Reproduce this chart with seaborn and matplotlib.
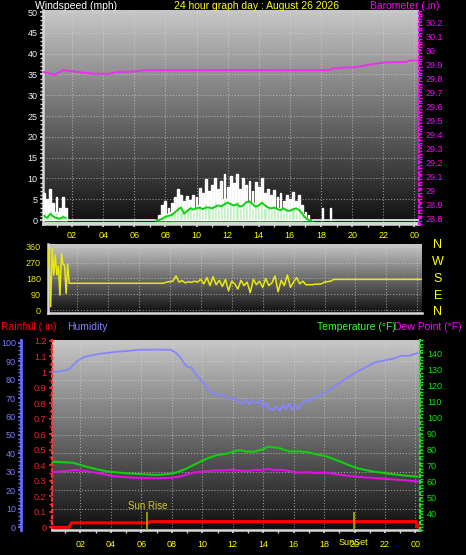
import numpy as np
import matplotlib
matplotlib.use("Agg")
import matplotlib.pyplot as plt
from matplotlib.ticker import MultipleLocator, FormatStrFormatter
import seaborn as sns

# ---- wind speed (mph), sampled every 0.2 h while there was wind ----
wind_am_hours = [0.2, 0.4, 0.6, 0.8, 1.0, 1.2, 1.4, 1.6]
gust_am = [6.5, 5.0, 7.5, 4.0, 5.5, 3.0, 5.5, 3.0]
speed_am = [2.0, 1.5, 2.5, 1.0, 2.0, 1.0, 1.5, 0.5]
avg_am = [1.0, 0.5, 1.5, 0.8, 0.5, 0.3, 0.7, 0.5]

wind_pm_hours = np.arange(7.4, 17.41, 0.2)
gust_pm = [0, 1.2, 3.5, 4.5, 3, 4.2, 5.5, 7.5, 6, 4.5, 5.8, 4.8, 6, 5.5, 7.8, 6.5,
           9.8, 7, 8.5, 10, 7.5, 9.5, 11, 8, 10.5, 9, 11, 7.5, 10, 8.5, 9.5, 7,
           9.2, 8, 10, 6.5, 7.5, 6, 7.2, 5.5, 6.5, 4.5, 6, 5, 6.8, 4.5, 6, 3.5,
           2, 1.2, 0]
speed_pm = [0, 0, 1, 1.5, 1, 2, 2.5, 3.5, 2, 3, 2.5, 3.5, 2, 3, 3.5, 2.5,
            4, 3, 3.5, 4.5, 3, 4, 5, 3.5, 4.5, 3.5, 4.5, 3, 4, 3.5, 4, 3,
            4, 3.5, 4.5, 3, 3.5, 2.5, 3, 2.5, 3, 2, 3, 2, 3, 2, 2.5, 1.5,
            0.5, 0, 0]
avg_pm = [0, 0, 0.3, 0.8, 1, 1.2, 1.8, 2.5, 3, 1.5, 2.2, 2.8, 2.5, 2.8, 3, 2.6,
          3, 3, 2.8, 3.2, 3.5, 3.3, 3.8, 4.2, 3.8, 3.5, 3.8, 3.2, 3.5, 4.3, 4.5, 3.8,
          3.2, 3.5, 4.2, 3.5, 3, 2.8, 3, 2.6, 2.4, 2.8, 2.3, 2.2, 2.6, 2.8, 2.4, 1.5,
          0.5, 0, 0]
late_gust_hours = [18.1, 18.6]
late_gust = [3.0, 3.0]

# ---- barometer (in) ----
baro_hours = [0.1, 0.9, 1.4, 3.2, 4.4, 4.8, 6.05, 6.7, 12.8, 18.6, 18.7, 20.3, 21.2, 22.1, 23.5, 23.7, 24.3]
baro = [29.845, 29.824, 29.857, 29.833, 29.83, 29.843, 29.848, 29.857, 29.858, 29.857,
        29.869, 29.88, 29.898, 29.912, 29.916, 29.926, 29.926]

# ---- wind direction (deg) ----
dir_hours = [0.1, 0.2, 0.3, 0.4, 0.5, 0.6, 0.7, 0.8, 0.9, 1.0, 1.1, 1.2, 1.3, 1.4, 1.5, 1.6,
             1.7, 7.4, 7.6, 7.8, 8.0, 8.2, 8.4, 8.6, 8.8, 9.0, 9.2, 9.4, 9.6, 9.8, 10.0,
             10.2, 10.4, 10.6, 10.8, 11.0, 11.2, 11.4, 11.6, 11.8, 12.0, 12.2, 12.4, 12.6,
             12.8, 13.0, 13.2, 13.4, 13.6, 13.8, 14.0, 14.2, 14.4, 14.6, 14.8, 15.0, 15.2,
             15.4, 15.6, 15.8, 16.0, 16.2, 16.4, 16.6, 16.8, 17.0, 17.2, 17.4, 17.6, 17.8,
             18.0, 18.2, 18.4, 18.6, 24.3]
direction = [238, 351, 20, 351, 200, 313, 200, 250, 87, 322, 260, 256, 96, 260, 153, 153,
             153, 153, 153, 160, 162, 165, 195, 160, 168, 155, 162, 158, 165, 160, 175,
             150, 185, 140, 190, 145, 170, 135, 175, 110, 165, 150, 120, 170,
             140, 160, 100, 175, 145, 165, 130, 180, 140, 155, 195, 105, 170,
             140, 200, 130, 160, 185, 150, 165, 145, 145, 145, 148, 148, 150,
             160, 162, 165, 175, 175]
compass = ["N", "W", "S", "E", "N"]

# ---- humidity (%) ----
hum_hours = [0.15, 0.6, 1.0, 1.3, 1.7, 2.15, 2.6, 3.25, 3.8, 4.35, 5.0, 5.9, 7.0, 7.9, 8.2,
             8.5, 8.97, 9.3, 9.6, 10.0, 10.5, 11.0, 11.3, 11.6, 11.9, 12.1, 12.3, 12.6,
             12.9, 13.1, 13.3, 13.6, 13.8, 14.0, 14.2, 14.4, 14.7, 14.9, 15.1, 15.3, 15.5,
             15.7, 15.9, 16.1, 16.3, 16.5, 16.7, 17.0, 17.3, 17.7, 18.2, 18.7, 19.3, 19.8,
             20.2, 20.8, 21.3, 22.2, 22.6, 23.05, 23.6, 24.15]
humidity = [84, 84.5, 85, 86, 89.5, 92, 93, 94, 94.5, 95.1, 95.5, 96.2, 96.3, 96.2, 95,
            92.6, 87.1, 86.5, 82.6, 79, 73.6, 71.5, 72, 70, 69, 70.5, 68.2, 67,
            69, 66.5, 68.5, 67, 69, 65, 67.5, 64, 63.6, 65.5, 63, 66.5, 64,
            67, 63.5, 66.5, 64, 67, 68, 68.5, 70, 71.5, 73.6, 76.5, 79.9, 82.5,
            84.4, 87, 89.3, 90.8, 91.5, 92.9, 93, 94.4]

# ---- temperature and dew point (F) ----
temp_hours = [0.17, 1.5, 2.4, 3.2, 3.9, 5.0, 6.0, 7.0, 7.5, 8.1, 8.5, 9.0, 9.85, 10.4, 11.0,
              11.6, 12.05, 12.5, 12.9, 13.4, 13.9, 14.3, 14.7, 15.1, 15.5, 15.8, 16.3, 16.9,
              17.5, 18.2, 19.1, 19.6, 20.2, 20.8, 21.3, 22.4, 23.2, 24.15]
temperature = [72.5, 71.9, 69.4, 67.5, 66.3, 65.3, 64.8, 64.3, 64.6, 65.3, 66.5, 68.4, 72.5, 74.8, 76.7,
               77.5, 78.8, 79.8, 78.8, 78.8, 80, 81.9, 81.5, 80.9, 79.5, 78.8, 79, 78.4,
               77.2, 75.7, 72.5, 70.5, 68.4, 67.2, 66.3, 64.9, 64, 63.2]
dew_hours = [0.17, 0.8, 1.7, 2.5, 3.25, 4.1, 5.4, 6.2, 7.2, 8.0, 8.5, 9.4, 10.0, 10.7, 11.5,
             12.0, 12.5, 13.0, 13.5, 14.0, 14.3, 14.8, 15.3, 15.8, 16.2, 17.0, 17.5, 18.2,
             19.1, 19.8, 20.6, 21.5, 22.4, 23.3, 24.15]
dew_point = [66, 66.5, 67.4, 66.5, 65.3, 63.6, 62.6, 62.4, 62.2, 62.6, 63.2, 65.7, 66.3, 67, 67.2,
             67.5, 67, 66.8, 67.5, 67.2, 68, 67.3, 67.5, 66.5, 65.7, 66, 65.5, 65.7,
             64.3, 63.5, 62.8, 62.2, 61.6, 61, 60.1]

# ---- rainfall (in) ----
rain_hours = [0.1, 1.25, 1.4, 6.5, 6.55, 24.05, 24.15]
rain = [0.0, 0.0, 0.029, 0.029, 0.037, 0.037, 0.0]

sunrise, sunset = 6.4, 19.95
hour_ticks = list(range(2, 25, 2))
hour_labels = ["02", "04", "06", "08", "10", "12", "14", "16", "18", "20", "22", "00"]

sns.set_theme(style="dark")
plt.rcParams["font.family"] = ["Liberation Sans", "DejaVu Sans"]

W, H = 466, 555
fig = plt.figure(figsize=(W / 100, H / 100), dpi=100, facecolor="black")

def box(l, t, r, b):
    return [l / W, 1 - b / H, (r - l) / W, (b - t) / H]

def gradient(ax, top=0.78, bottom=0.06):
    g = np.linspace(bottom, top, 256).reshape(-1, 1)
    ax.imshow(g, extent=[0, 1, 0, 1], transform=ax.transAxes, origin="lower",
              aspect="auto", cmap="gray", vmin=0, vmax=1, zorder=0)

def style_x(ax, labels=True):
    ax.set_xlim(0.13, 24.3)
    ax.set_xticks(hour_ticks)
    ax.set_xticklabels(hour_labels if labels else [])
    ax.xaxis.set_minor_locator(MultipleLocator(1))
    ax.tick_params(axis="x", which="both", colors="#d0d0d0", labelcolor="#ffff00",
                   labelsize=6.5, length=2, pad=3, bottom=labels)
    ax.grid(True, color="#d8d8d8", linestyle=":", linewidth=0.8, alpha=0.6)
    ax.set_facecolor("black")

grid_kw = dict(color="#d8d8d8", linestyle=":", linewidth=0.8, alpha=0.6)

# ================= top: wind speed + barometer =================
ax1 = fig.add_axes(box(43, 10, 419, 224))
gradient(ax1)
style_x(ax1)
ax1.set_ylim(-0.96, 50.5)
ax1.yaxis.set_major_locator(MultipleLocator(5))
ax1.yaxis.set_minor_locator(MultipleLocator(1))
ax1.tick_params(axis="y", which="both", colors="#d0d0d0", labelcolor="#eef0ff",
                labelsize=6.5, length=2, pad=2)
ax1.axhline(-0.8, color="#a8f0a8", lw=1.6, zorder=2)
ax1.axhline(0, color="#d8d8d8", lw=1.4, zorder=2)
ax1.bar(wind_am_hours, gust_am, width=0.12, color="#f0f0f0", zorder=3)
ax1.bar(wind_pm_hours, gust_pm, width=0.12, color="#f0f0f0", zorder=3)
ax1.bar(late_gust_hours, late_gust, width=0.1, color="#e0e0e0", zorder=3)
ax1.bar(wind_am_hours, speed_am, width=0.2, color="#b8f0b8", zorder=4)
ax1.bar(wind_pm_hours, speed_pm, width=0.2, color="#b8f0b8", zorder=4)
sns.lineplot(x=wind_am_hours, y=avg_am, ax=ax1, color="#10d010", lw=1.4, zorder=5)
sns.lineplot(x=wind_pm_hours, y=avg_pm, ax=ax1, color="#10d010", lw=1.4, zorder=5)
for s in ["left", "bottom"]:
    ax1.spines[s].set_color("#d8d8d8")
    ax1.spines[s].set_linewidth(1.8)
ax1.spines["top"].set_visible(False)
ax1.spines["right"].set_visible(False)

ax1b = ax1.twinx()
ax1b.set_ylim(28.76, 30.286)
sns.lineplot(x=baro_hours, y=baro, ax=ax1b, color="#ee30ee", lw=1.4)
ax1b.yaxis.set_major_locator(MultipleLocator(0.1))
ax1b.yaxis.set_minor_locator(MultipleLocator(0.02))
ax1b.yaxis.set_major_formatter(FormatStrFormatter("%g"))
ax1b.tick_params(axis="y", which="both", colors="#ff00ff", labelcolor="#ff00ff",
                 labelsize=6.5, length=2, pad=3)
ax1b.spines["right"].set_color("#ff00ff")
ax1b.spines["right"].set_linestyle(":")
ax1b.spines["right"].set_linewidth(1.5)
for s in ["left", "top", "bottom"]:
    ax1b.spines[s].set_visible(False)
ax1b.set_ylabel("")
ax1.set_ylabel("")

# ================= middle: wind direction =================
ax2 = fig.add_axes(box(48, 244, 422, 313))
gradient(ax2)
style_x(ax2, labels=False)
ax2.set_ylim(-15, 375)
ax2.yaxis.set_major_locator(MultipleLocator(90))
ax2.yaxis.set_minor_locator(MultipleLocator(30))
ax2.tick_params(axis="y", which="both", colors="#e0e000", labelcolor="#e8e800",
                labelsize=6.5, length=2, pad=3)
sns.lineplot(x=dir_hours, y=direction, ax=ax2, color="#e8e810", lw=1.1, zorder=3)
for s in ["left", "bottom"]:
    ax2.spines[s].set_color("#d8d8d8")
    ax2.spines[s].set_linewidth(1.8)
ax2.spines["top"].set_visible(False)
ax2.spines["right"].set_visible(False)
for lab, yy in zip(compass, [245, 262, 279, 296, 312]):
    fig.text(438 / W, 1 - yy / H, lab, color="#ffff00", fontsize=9, ha="center", va="center")

# ================= bottom: rain, humidity, temperature =================
ax3 = fig.add_axes(box(52, 340, 420, 530))
gradient(ax3)
style_x(ax3)
ax3.tick_params(axis="x", pad=5)
ax3.set_ylim(-0.017, 1.206)
ax3.yaxis.set_major_locator(MultipleLocator(0.1))
ax3.yaxis.set_minor_locator(MultipleLocator(0.05))
ax3.yaxis.set_major_formatter(FormatStrFormatter("%g"))
ax3.tick_params(axis="y", which="both", colors="#ff2020", labelcolor="#ff2020",
                labelsize=6.5, length=2, pad=2)
ax3.grid(False, axis="y")
ax3.spines["left"].set_color("#ff3030")
ax3.spines["left"].set_linestyle(":")
ax3.spines["left"].set_linewidth(1.6)
ax3.spines["bottom"].set_color("#d8d8d8")
ax3.spines["bottom"].set_linewidth(1.8)
ax3.spines["top"].set_visible(False)
ax3.spines["right"].set_visible(False)

ax3h = ax3.twinx()
ax3h.set_ylim(-1.5, 101.5)
ax3h.yaxis.set_ticks_position("left")
ax3h.yaxis.set_label_position("left")
ax3h.spines["left"].set_position(("outward", 22))
ax3h.spines["left"].set_color("#6a6aff")
ax3h.spines["left"].set_linewidth(2)
for s in ["right", "top", "bottom"]:
    ax3h.spines[s].set_visible(False)
ax3h.yaxis.set_major_locator(MultipleLocator(10))
ax3h.yaxis.set_minor_locator(MultipleLocator(2))
ax3h.tick_params(axis="y", which="both", colors="#7070ff", labelcolor="#7b7bff",
                 labelsize=6.5, length=2, pad=2)
for yv in np.arange(10, 100, 10):
    ax3h.axhline(yv, **grid_kw)
sns.lineplot(x=hum_hours, y=humidity, ax=ax3h, color="#8585ff", lw=1.3)
ax3h.set_ylabel("")

ax3t = ax3.twinx()
ax3t.set_ylim(30, 148.3)
ax3t.spines["right"].set_color("#20e020")
ax3t.spines["right"].set_linestyle(":")
ax3t.spines["right"].set_linewidth(1.6)
for s in ["left", "top", "bottom"]:
    ax3t.spines[s].set_visible(False)
ax3t.yaxis.set_minor_locator(MultipleLocator(2))
ax3t.set_yticks(np.arange(40, 141, 10))
ax3t.tick_params(axis="y", which="both", colors="#10e010", labelcolor="#10e010",
                 labelsize=6.5, length=2, pad=3)
sns.lineplot(x=temp_hours, y=temperature, ax=ax3t, color="#10d010", lw=1.5)
sns.lineplot(x=dew_hours, y=dew_point, ax=ax3t, color="#e010e0", lw=1.5)
ax3t.set_ylabel("")

# rain on top of everything
ax3r = ax3.twinx()
ax3r.set_ylim(ax3.get_ylim())
ax3r.axis("off")
sns.lineplot(x=rain_hours, y=rain, ax=ax3r, color="#ff0000", lw=2.2)
for hr in (sunrise, sunset):
    ax3r.vlines(hr, -0.017, 0.1, color="#b8a800", lw=1.2)
ax3r.text(sunrise, 0.105, "Sun Rise", color="#d8c820", fontsize=7, ha="center", va="bottom")
ax3r.text(sunset, -0.065, "SunSet", color="#ffff00", fontsize=6.5, ha="center", va="center",
          transform=ax3r.get_xaxis_transform())

# ---- header texts ----
def head(x, y, s, c, ha="left"):
    fig.text(x / W, 1 - y / H, s, color=c, fontsize=7.5, ha=ha, va="center")

head(35, 6, "Windspeed (mph)", "#ffffff")
head(257, 6, "24 hour graph day : August 26 2026", "#ffff00", ha="center")
head(439, 6, "Barometer (.in)", "#ff00ff", ha="right")
head(1, 327, "Rainfall (.in)", "#ff0000")
head(67, 327, "Humidity", "#8080ff")
head(396, 327, "Temperature (°F)", "#30ff30", ha="right")
head(462, 327, "Dew Point (°F)", "#ff00ff", ha="right")

fig.savefig("out.png", dpi=100, facecolor="black")
